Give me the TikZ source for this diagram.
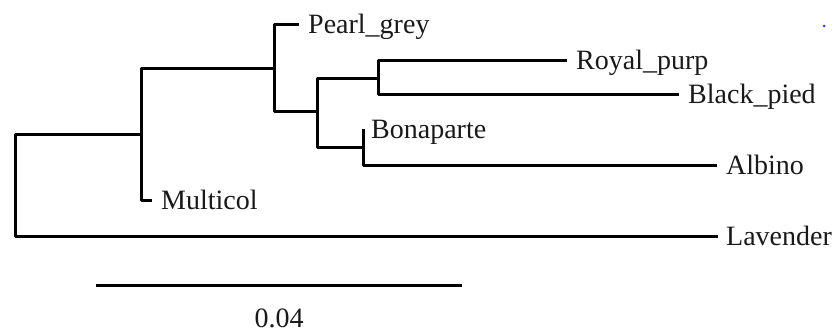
\documentclass[tikz,border=0pt]{standalone}
\usepackage{fontspec}
\setmainfont{Liberation Serif}
\begin{document}
\begin{tikzpicture}[x=1bp,y=-1bp,
  branch/.style={line width=3bp, line join=round, line cap=butt, black},
  lab/.style={anchor=base west, inner sep=0pt, xshift=9bp, yshift=-9bp,
    font=\fontsize{28bp}{33bp}\selectfont, text=black!90}]
\useasboundingbox (0,0) rectangle (835,332);
% internal nodes
\coordinate (R) at (15,134);
\coordinate (A) at (141,134);
\coordinate (B) at (274,68);
\coordinate (C) at (317,111);
\coordinate (D) at (378,78);
\coordinate (E) at (363,147);
% tips
\coordinate (tPearl) at (299,24);
\coordinate (tRoyal) at (567,60);
\coordinate (tBlack) at (679,94);
\coordinate (tBona) at (363,129);
\coordinate (tAlbino) at (717,165);
\coordinate (tMulti) at (152,200);
\coordinate (tLav) at (718,236);
% branches
\draw[branch] (A) -| (R) |- (tLav);
\draw[branch] (B) -| (A) |- (tMulti);
\draw[branch] (tPearl) -| (B) |- (C);
\draw[branch] (D) -| (C) |- (E);
\draw[branch] (tRoyal) -| (D) |- (tBlack);
\draw[branch] (tBona) -| (E) |- (tAlbino);
% labels
\node[lab] (lPearl) at (tPearl) {Pearl\_grey};
\node[lab] (lRoyal) at (tRoyal) {Royal\_purp};
\node[lab] (lBlack) at (tBlack) {Black\_pied};
\node[lab,xshift=-1bp] (lBona) at (tBona) {Bonaparte};
\node[lab] (lAlbino) at (tAlbino) {Albino};
\node[lab] (lMulti) at (tMulti) {Multicol};
\node[lab,xshift=-1bp] (lLav) at (tLav) {Lavender};
% scale bar
\coordinate (s1) at (96,285);
\coordinate (s2) at (462,285);
\draw[branch] (s1) -- (s2);
\node[anchor=base, inner sep=0pt, font=\fontsize{28bp}{33bp}\selectfont, text=black!90] (scale) at (279,327) {0.04};
% stray dot
\fill[color={rgb,255:red,60;green,60;blue,230}] (824,26) circle (1.5);
\end{tikzpicture}
\end{document}
